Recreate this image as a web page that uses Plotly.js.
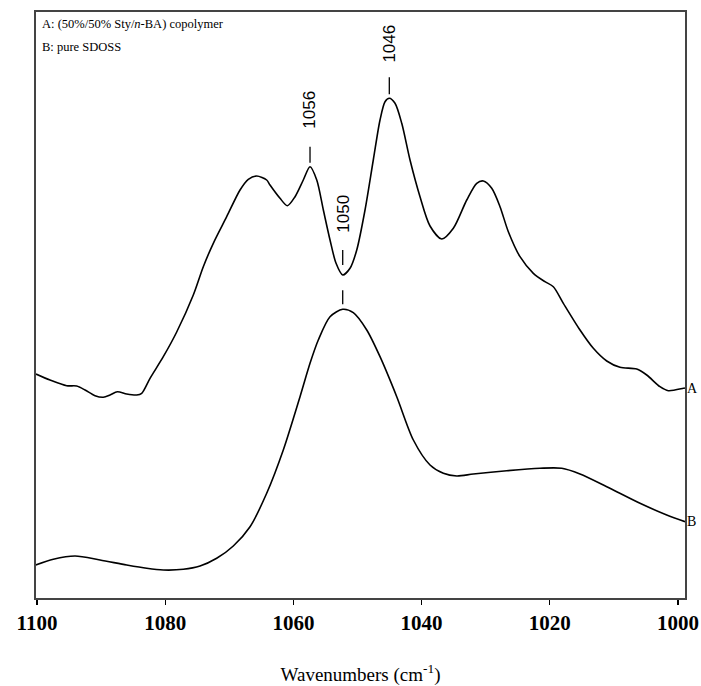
<!DOCTYPE html>
<html>
<head>
<meta charset="utf-8">
<script src="https://cdn.plot.ly/plotly-3.0.1.min.js"></script>
<style>html,body{margin:0;padding:0;background:#fff;}#chart{width:701px;height:686px;}</style>
</head>
<body>
<div id="chart"></div>
<script>
// Curve A: (50%/50% Sty/n-BA) copolymer
const waveA = [1100.16,1097.97,1095.37,1093.81,1092.51,1090.95,1089.66,1088.61,1087.47,1086.01,1084.45,1083.67,1082.37,1080.30,1078.21,1075.62,1074.06,1072.50,1070.41,1068.33,1067.04,1065.72,1064.17,1063.65,1062.09,1060.95,1059.75,1058.46,1057.41,1056.36,1055.33,1054.29,1053.35,1052.31,1051.17,1050.12,1048.83,1047.54,1046.49,1045.71,1045.04,1044.15,1043.10,1041.81,1040.25,1038.69,1036.86,1035.05,1032.96,1031.40,1030.37,1029.06,1027.77,1026.47,1024.65,1022.57,1020.75,1019.45,1017.89,1015.29,1013.21,1011.12,1009.05,1006.44,1004.88,1002.81,1001.51,999.17,998.91];
const absA = [224,218,212.3,212,208,202.3,200.7,203,206.3,204,203,204.7,219.7,241.3,266,303,331.3,354.7,381.3,408,418.7,422,418,413,399.7,392.3,401.3,418,431.3,418,388,358,334.7,323,329.7,348,388,438,478,496.3,499.7,494.7,474.7,438,401.3,372,359,369.7,398,414.7,417,409.7,391.3,366.3,341.3,324.7,316.3,311.3,294.7,268,249.7,237,230.7,229,223,211.3,207.3,209.7,210];
// Curve B: pure SDOSS
const waveB = [1100.2,1097.46,1094.07,1090.17,1086.01,1082.89,1080.30,1077.18,1074.57,1071.97,1069.38,1066.77,1064.17,1061.58,1058.97,1057.41,1056.12,1054.29,1052.31,1050.66,1048.56,1046.49,1043.88,1041.29,1038.69,1036.61,1034.52,1031.93,1026.72,1021.53,1018.14,1015.29,1011.12,1005.93,1001.76,998.91];
const absB = [33,38.7,42,38,33,29.7,28,28.7,32,39.7,52,71.3,104.7,148,201.3,234.7,258,281.3,288.7,285.3,268,241.3,201.3,158,133,124.7,122,124,127.3,129.7,129.7,124,111.3,94.7,83,76.3];
// Peak markers (position as drawn in the picture) and their label texts
const peakPos = [1057.41, 1052.31, 1045.04];
const peakLabels = ['1056', '1050', '1046'];
const bPeakPos = 1052.31;
const xTicks = [1100, 1080, 1060, 1040, 1020, 1000];
const legendLines = ['A: (50%/50% Sty/<i>n</i>-BA) copolymer', 'B: pure SDOSS'];
const seriesNames = ['A', 'B'];

function valueAt(ws, vs, w) {
  for (let i = 0; i < ws.length - 1; i++) {
    const a = ws[i], b = ws[i + 1];
    if ((w <= a && w >= b) || (w >= a && w <= b)) {
      const t = (w - a) / (b - a);
      return vs[i] + t * (vs[i + 1] - vs[i]);
    }
  }
  return vs[vs.length - 1];
}

const lineStyle = {color: '#000', width: 1.6, shape: 'spline', smoothing: 0.8};
const traces = [
  {x: waveA, y: absA, mode: 'lines', line: lineStyle, name: seriesNames[0], hoverinfo: 'skip'},
  {x: waveB, y: absB, mode: 'lines', line: lineStyle, name: seriesNames[1], hoverinfo: 'skip'}
];

const labelOff = [57, 61, 55];
const tickOff = [[4, 20], [10, 25], [4, 21]];
const shapes = [];
const annotations = [];
peakPos.forEach((p, i) => {
  const yv = valueAt(waveA, absA, p);
  shapes.push({type: 'line', xref: 'x', yref: 'y', x0: p, x1: p, yanchor: yv, ysizemode: 'pixel',
    y0: tickOff[i][0], y1: tickOff[i][1], line: {color: '#000', width: 1.3}});
  annotations.push({x: p, y: yv, xref: 'x', yref: 'y', text: peakLabels[i], showarrow: false,
    textangle: -90, yshift: labelOff[i], xanchor: 'center', yanchor: 'middle',
    font: {family: 'Liberation Sans, Arial, sans-serif', size: 17, color: '#000'}});
});
const yb = valueAt(waveB, absB, bPeakPos);
shapes.push({type: 'line', xref: 'x', yref: 'y', x0: bPeakPos, x1: bPeakPos, yanchor: yb, ysizemode: 'pixel',
  y0: 5, y1: 19, line: {color: '#000', width: 1.3}});

legendLines.forEach((t, i) => {
  annotations.push({xref: 'paper', yref: 'paper', x: 0, y: 1, xanchor: 'left', yanchor: 'top',
    xshift: 4, yshift: -3 - i * 23, text: t, showarrow: false,
    font: {family: 'Liberation Serif, Times New Roman, serif', size: 12.5, color: '#000'}});
});
annotations.push({xref: 'paper', yref: 'y', x: 1, y: absA[absA.length - 1], xanchor: 'left', yanchor: 'middle',
  xshift: 0, text: seriesNames[0], showarrow: false,
  font: {family: 'Liberation Serif, Times New Roman, serif', size: 14, color: '#000'}});
annotations.push({xref: 'paper', yref: 'y', x: 1, y: absB[absB.length - 1], xanchor: 'left', yanchor: 'middle',
  xshift: 0, text: seriesNames[1], showarrow: false,
  font: {family: 'Liberation Serif, Times New Roman, serif', size: 14, color: '#000'}});

const layout = {
  width: 701, height: 686,
  margin: {l: 36, r: 16, t: 12, b: 88},
  paper_bgcolor: '#fff', plot_bgcolor: '#fff',
  showlegend: false,
  xaxis: {
    range: [1100.16, 998.91], tickvals: xTicks, ticktext: xTicks.map(String),
    ticks: 'outside', ticklen: 5, tickwidth: 1.3, tickcolor: '#000',
    showline: true, mirror: true, linecolor: '#444', linewidth: 1.6,
    showgrid: false, zeroline: false,
    tickfont: {family: 'Liberation Serif, Times New Roman, serif', size: 21, color: '#000', weight: 'bold'},
    title: {text: 'Wavenumbers (cm<sup>-1</sup>)', standoff: 48,
      font: {family: 'Liberation Serif, Times New Roman, serif', size: 19, color: '#000'}}
  },
  yaxis: {
    range: [0, 586], showticklabels: false, ticks: '', showgrid: false, zeroline: false,
    showline: true, mirror: true, linecolor: '#444', linewidth: 1.6
  },
  shapes: shapes,
  annotations: annotations
};
Plotly.newPlot('chart', traces, layout, {staticPlot: true, displayModeBar: false});
</script>
</body>
</html>
